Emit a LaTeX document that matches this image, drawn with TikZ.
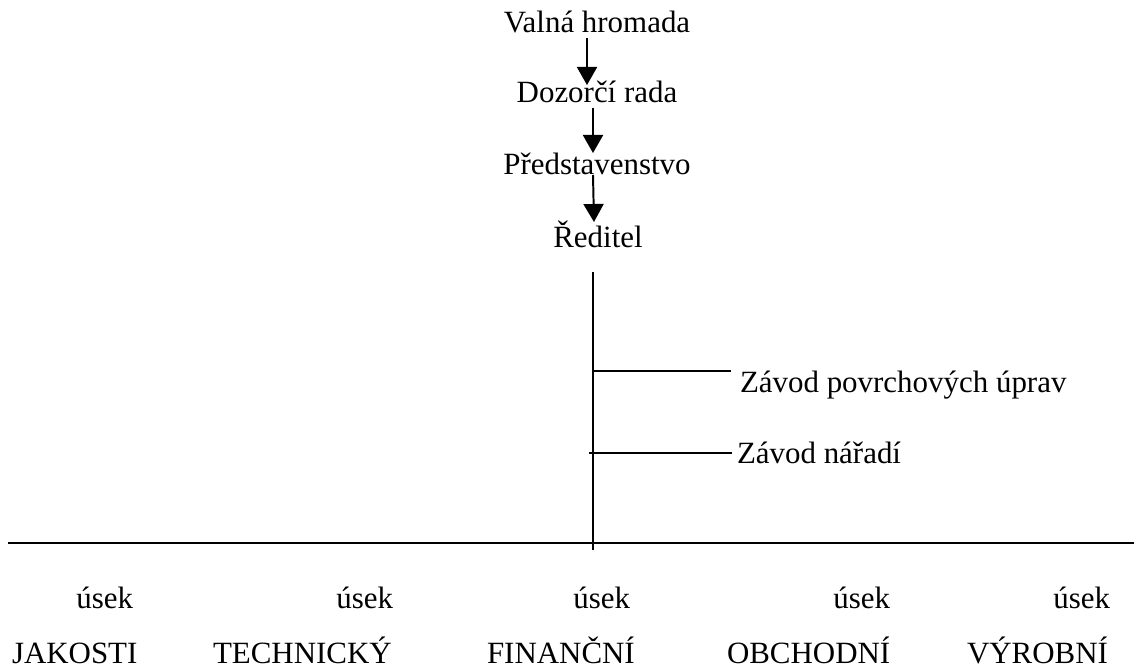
\documentclass[tikz,border=0pt]{standalone}
\usepackage{fontspec}
\setmainfont{Liberation Serif}
\usetikzlibrary{arrows.meta,calc}

\begin{document}
\begin{tikzpicture}[
  x=0.025cm, y=-0.025cm,
  txt/.style={font=\fontsize{22}{26}\selectfont, inner sep=0pt, outer sep=0pt},
  arrow/.style={-{Triangle[width=0.5cm,length=0.45cm]}, line width=1.4pt},
  rule/.style={line width=1.4pt}
]
\useasboundingbox (0,0) rectangle (1134,669);

% chain at the top
\node[txt, anchor=base] (vh) at (597,33) {Valná hromada};
\node[txt, anchor=base] (dr) at (597,103) {Dozorčí rada};
\node[txt, anchor=base] (ps) at (597,175) {Představenstvo};
\node[txt, anchor=base] (red) at (598,248) {Ředitel};

\draw[arrow] ($(vh.base)+(-10,5)$) -- ($(dr.base)+(-10,-18)$);
\draw[arrow] ($(dr.base)+(-4,5)$) -- ($(ps.base)+(-4,-22)$);
\draw[arrow] ($(ps.base)+(-4,0)$) -- ($(red.base)+(-4,-26)$);

% spine and plants
\coordinate (spineTop) at (593,272);
\coordinate (spineBot) at (593,550);
\coordinate (ruleL) at (8,543);
\coordinate (ruleR) at (1134,543);

\node[txt, anchor=base west] (zpu) at (740,393) {Závod povrchových úprav};
\node[txt, anchor=base west] (zn) at (737,464) {Závod nářadí};

\draw[rule] (spineTop) -- (spineBot);
\draw[rule] ($(zpu.base west -| spineTop)+(0,-22)$) -- ($(zpu.base west)+(-9,-22)$);
\draw[rule] ($(zn.base west -| spineTop)+(-4,-11)$) -- ($(zn.base west)+(-5,-11)$);
\draw[rule] (ruleL) -- (ruleR);

% departments
\node[txt, anchor=base east] (u1) at (133,609) {úsek};
\node[txt, anchor=base east] (u2) at (393,609) {úsek};
\node[txt, anchor=base east] (u3) at (630,609) {úsek};
\node[txt, anchor=base east] (u4) at (890,609) {úsek};
\node[txt, anchor=base east] (u5) at (1110,609) {úsek};

\node[txt, anchor=base west] (jak) at (12,663) {JAKOSTI};
\node[txt, anchor=base west] (tech) at (213,663) {TECHNICKÝ};
\node[txt, anchor=base west] (fin) at (487,663) {FINANČNÍ};
\node[txt, anchor=base west] (obch) at (727,663) {OBCHODNÍ};
\node[txt, anchor=base west] (vyr) at (967,663) {VÝROBNÍ};
\end{tikzpicture}
\end{document}
